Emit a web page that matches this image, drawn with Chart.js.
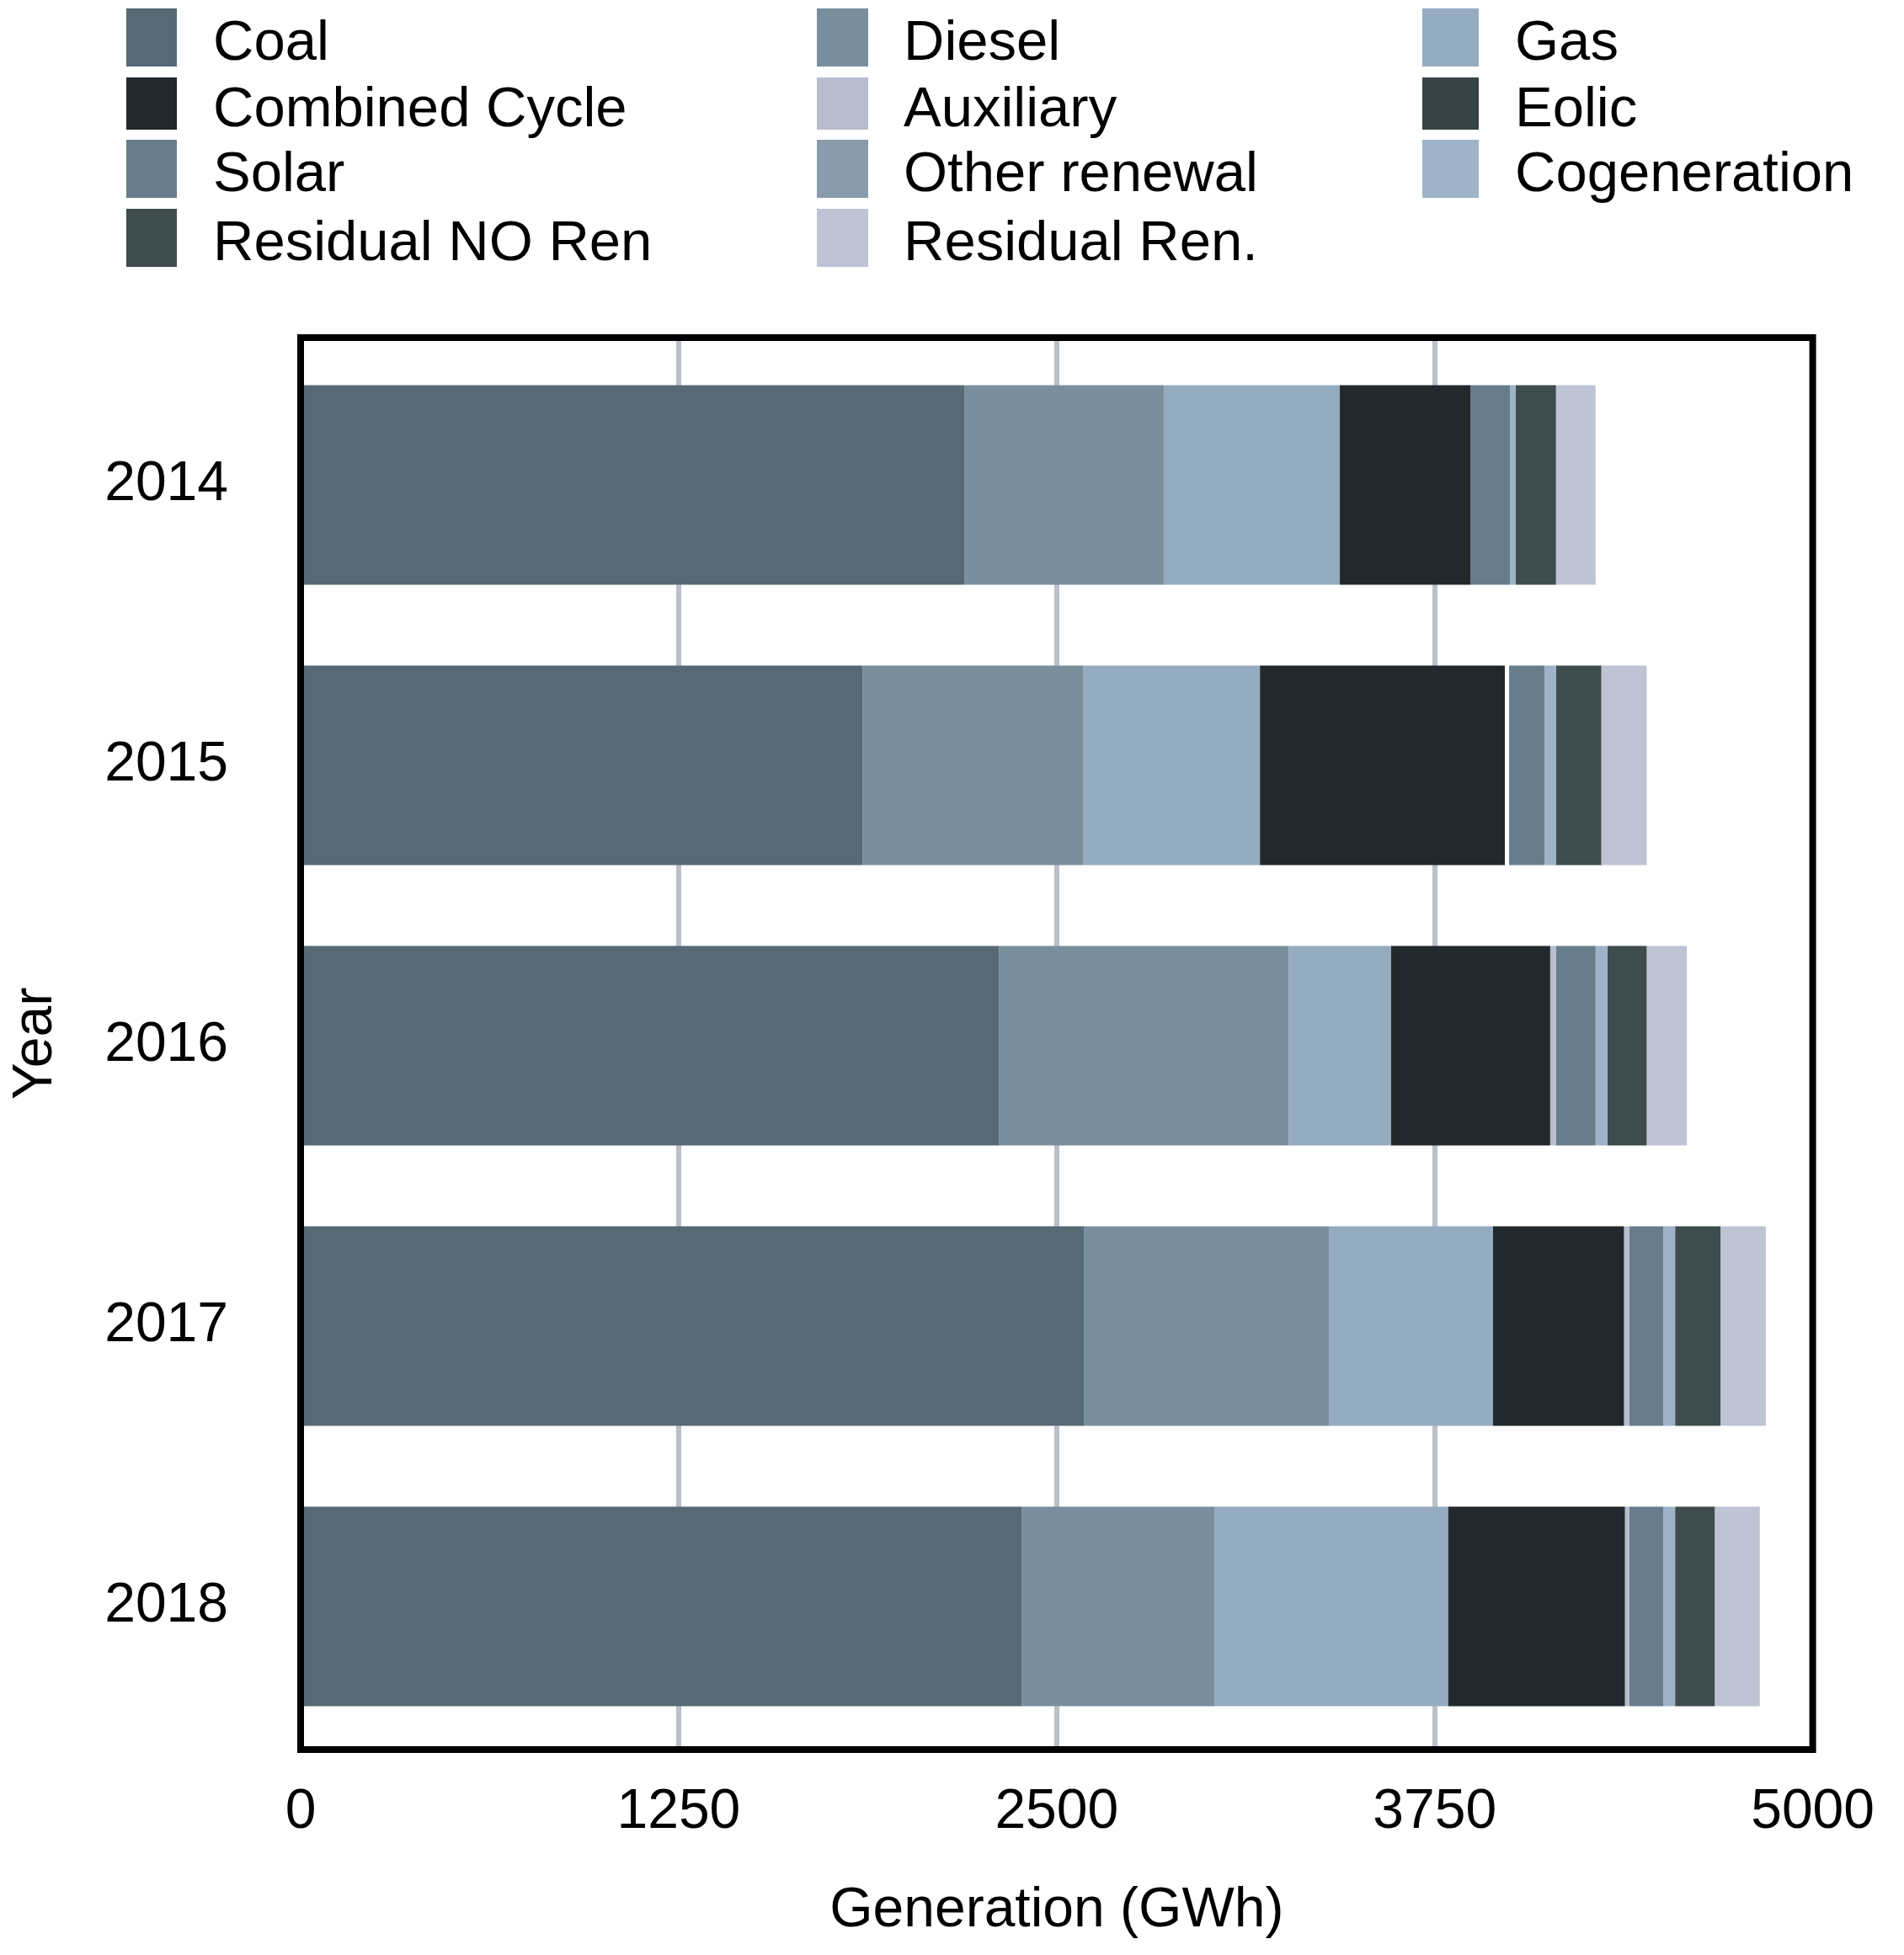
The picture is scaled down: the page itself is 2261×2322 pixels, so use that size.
<!DOCTYPE html>
<html><head><meta charset="utf-8">
<script src="https://cdn.jsdelivr.net/npm/chart.js@4.4.1/dist/chart.umd.min.js"></script>
<style>
html,body{margin:0;padding:0;background:#fff;}
#wrap{position:relative;width:2261px;height:2322px;overflow:hidden;}
#c{position:absolute;left:0;top:0;}
#legend{position:absolute;left:0;top:0;width:2261px;height:340px;font-family:"Liberation Sans",Arial,Helvetica,sans-serif;font-size:67px;color:#000;}
.sw{position:absolute;}
.lt{position:absolute;white-space:nowrap;display:flex;align-items:center;}
</style></head><body>
<div id="wrap"><canvas id="c" width="2261" height="2322"></canvas><div id="legend"></div></div>
<script>
// ---- data ----
const years = ['2014', '2015', '2016', '2017', '2018'];
const seriesNames = ['Coal', 'Diesel', 'Gas', 'Combined Cycle', 'Auxiliary', 'Eolic',
  'Solar', 'Other renewal', 'Cogeneration', 'Residual NO Ren', 'Residual Ren.'];
const coal          = [2196, 1858, 2310, 2590, 2385];
const diesel        = [658, 729, 957, 810, 638];
const gas           = [582, 585, 338, 543, 771];
const combinedCycle = [433, 810, 527, 433, 585];
const auxiliary     = [0, 14, 19, 17, 14];
const eolic         = [0, 0, 0, 0, 0];
const solar         = [130, 117, 131, 113, 113];
const otherRenewal  = [0, 0, 0, 0, 0];
const cogeneration  = [19, 38, 39, 39, 39];
const residualNoRen = [133, 150, 130, 150, 131];
const residualRen   = [131, 150, 133, 150, 149];
const xTickValues   = [0, 1250, 2500, 3750, 5000];

const seriesData = [coal, diesel, gas, combinedCycle, auxiliary, eolic,
  solar, otherRenewal, cogeneration, residualNoRen, residualRen];
const seriesColors = ['#566975', '#798f9e', '#95abbf', '#22292c', '#b7bdce', '#384345',
  '#687d8b', '#8a9cab', '#9eb3c7', '#3e4c4e', '#bec4d3'];

// ---- chart ----
const FONT = '"Liberation Sans", Arial, Helvetica, sans-serif';
Chart.defaults.font.family = FONT;
Chart.defaults.color = '#000';

const framePlugin = {
  id: 'frame',
  afterDatasetsDraw(chart) {
    const {ctx, chartArea: a} = chart;
    ctx.save();
    ctx.strokeStyle = '#000';
    ctx.lineWidth = 8;
    ctx.strokeRect(a.left, a.top, a.right - a.left, a.bottom - a.top);
    ctx.restore();
  }
};

const datasets = seriesNames.map((name, i) => ({
  label: name,
  data: seriesData[i],
  backgroundColor: name === 'Auxiliary'
    ? seriesData[i].map((v, j) => j === 1 ? '#ffffff' : seriesColors[i])
    : seriesColors[i],
  borderWidth: 0,
  barPercentage: 0.712,
  categoryPercentage: 1
}));

new Chart(document.getElementById('c'), {
  type: 'bar',
  data: {labels: years, datasets},
  options: {
    indexAxis: 'y',
    responsive: false,
    animation: false,
    devicePixelRatio: 1,
    layout: {padding: {top: 401, right: 101, left: 0, bottom: 0}},
    plugins: {legend: {display: false}, tooltip: {enabled: false}},
    scales: {
      x: {
        type: 'linear', stacked: true, min: 0, max: 5000, position: 'bottom',
        afterBuildTicks(s) { s.ticks = xTickValues.map(v => ({value: v})); },
        afterFit(s) { s.height = 244; },
        grid: {color: '#bbbfc9', lineWidth: 6, drawTicks: false},
        border: {display: false},
        ticks: {padding: 35, font: {size: 66}, color: '#000', callback: v => String(v), maxRotation: 0, autoSkip: false},
        title: {display: true, text: 'Generation (GWh)', font: {size: 66}, color: '#000', padding: {top: 0, bottom: 13}}
      },
      y: {
        type: 'linear', stacked: true, reverse: true, offset: false,
        min: 2013.4745, max: 2018.5105,
        afterBuildTicks(s) { s.ticks = years.map(v => ({value: +v})); },
        afterFit(s) { s.width = 357; },
        grid: {display: false, drawTicks: false, offset: false},
        border: {display: false},
        ticks: {padding: 86, font: {size: 66}, color: '#000', callback: v => String(v), autoSkip: false},
        title: {display: true, text: 'Year', font: {size: 66}, color: '#000', padding: {top: 3, bottom: 0}}
      }
    }
  },
  plugins: [framePlugin]
});

// ---- legend (HTML, 3 columns, row-major) ----
const legend = document.getElementById('legend');
const colSwatchLeft = [150, 970, 1689];
const colSwatchWidth = [60, 61, 67];
const colTextLeft = [253, 1073, 1799];
const rowTop = [10, 92, 166, 248];
const rowHeight = [69, 62, 69, 69];
seriesNames.forEach((name, i) => {
  const r = Math.floor(i / 3), c = i % 3;
  const sw = document.createElement('div');
  sw.className = 'sw';
  sw.style.left = colSwatchLeft[c] + 'px';
  sw.style.top = rowTop[r] + 'px';
  sw.style.width = colSwatchWidth[c] + 'px';
  sw.style.height = rowHeight[r] + 'px';
  sw.style.background = seriesColors[i];
  legend.appendChild(sw);
  const t = document.createElement('div');
  t.className = 'lt';
  t.style.left = colTextLeft[c] + 'px';
  t.style.top = (rowTop[r] + 3) + 'px';
  t.style.height = rowHeight[r] + 'px';
  t.textContent = name;
  legend.appendChild(t);
});
</script>
</body></html>
